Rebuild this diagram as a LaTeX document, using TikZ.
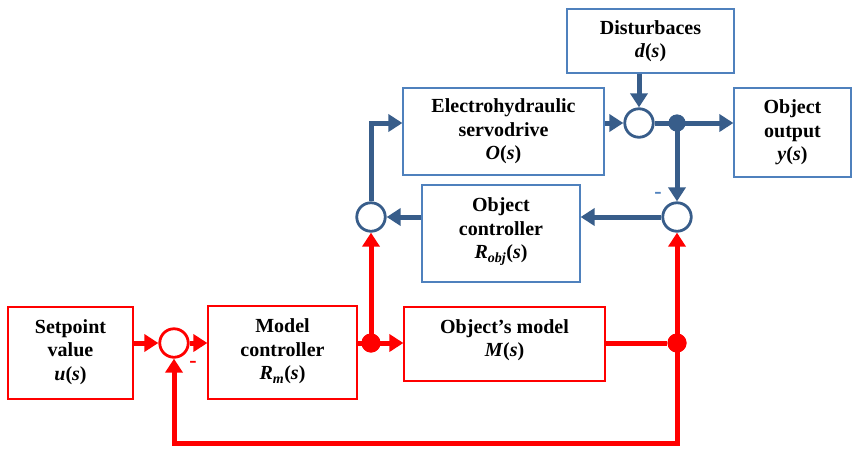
\documentclass[tikz,border=0pt]{standalone}
\usepackage{fontspec}
\setmainfont{Liberation Serif}
\usetikzlibrary{arrows.meta}
\definecolor{bl}{RGB}{56,93,138}
\definecolor{bboxc}{RGB}{79,129,189}
\definecolor{rd}{RGB}{255,0,0}
\begin{document}
\begin{tikzpicture}[x=1pt,y=-1pt,
  font=\fontsize{20}{23.5}\selectfont\bfseries,
  bbox/.style={draw=bboxc, line width=1.2pt, align=center, inner sep=0pt},
  rbox/.style={draw=rd, line width=1.2pt, align=center, inner sep=0pt},
  bsum/.style={circle, draw=bl, line width=2.8pt, fill=white, minimum size=28.5pt, inner sep=0pt},
  rsum/.style={circle, draw=rd, line width=2.8pt, fill=white, minimum size=28.5pt, inner sep=0pt},
  bdot/.style={circle, fill=bl, minimum size=17pt, inner sep=0pt},
  rdot/.style={circle, fill=rd, minimum size=19pt, inner sep=0pt},
  bline/.style={draw=bl, line width=5pt},
  rline/.style={draw=rd, line width=5pt},
  barrow/.style={bline, -{Triangle[length=14pt,width=17pt]}},
  rarrow/.style={rline, -{Triangle[length=14pt,width=17pt]}},
  minus/.style={font=\fontsize{22}{22}\selectfont\bfseries, inner sep=0pt}
]
\useasboundingbox (0,0) rectangle (853,451);
% blue boxes
\node[bbox, minimum width=167pt, minimum height=64pt] (dist) at (650.5,41)
  {Disturbaces\\\textit{d}(\textit{s})};
\node[bbox, minimum width=201pt, minimum height=87pt] (eh) at (503.5,131.5)
  {Electrohydraulic\\servodrive\\\textit{O}(\textit{s})};
\node[bbox, minimum width=117pt, minimum height=89pt] (out) at (792.5,132.5)
  {Object\\output\\\textit{y}(\textit{s})};
\node[bbox, minimum width=158pt, minimum height=97pt, text depth=10pt] (ctrl) at (501,233.5)
  {Object\\controller\\\textit{R}\textsubscript{\textit{obj}}(\textit{s})};
% red boxes
\node[rbox, minimum width=125pt, minimum height=92pt, text depth=6pt] (sp) at (70.5,353)
  {Setpoint\\value\\\textit{u}(\textit{s})};
\node[rbox, minimum width=149pt, minimum height=93pt, text depth=6pt] (mc) at (282.5,352.5)
  {Model\\controller\\\textit{R}\textsubscript{\textit{m}}(\textit{s})};
\node[rbox, minimum width=201pt, minimum height=74pt, text depth=12pt] (om) at (504.5,344)
  {Object’s model\\\textit{M}(\textit{s})};
% summing points and junctions
\node[bsum] (s1) at (639,123) {};
\node[bsum] (s2) at (677,217) {};
\node[bsum] (lc) at (371,217) {};
\node[rsum] (rs) at (174,343) {};
\node[bdot] (j1) at (677,123) {};
\node[rdot] (j2) at (371,343) {};
\node[rdot] (j3) at (677,343) {};
\coordinate (cb1) at (677,443);
% blue connections
\draw[barrow] (s1 |- dist.south) -- (s1.north);
\draw[barrow] (eh.east |- s1) -- (s1.west);
\draw[barrow] (s1.east) -- (s1 -| out.west);
\draw[barrow] (j1.center) -- (s2.north);
\draw[barrow] (s2.west) -- (s2 -| ctrl.east);
\draw[barrow] (ctrl.west |- lc) -- (lc.east);
\draw[barrow] (lc.north) |- (eh.west |- s1);
\node[bdot] at (j1) {};
% red connections
\draw[rarrow] (sp.east |- rs) -- (rs.west);
\draw[rarrow] (rs.east) -- (rs -| mc.west);
\draw[rarrow] (mc.east |- rs) -- (rs -| om.west);
\draw[rarrow] (j2.center) -- (lc.south);
\draw[rline] (om.east |- j3) -- (j3);
\draw[rarrow] (j3.center) -- (s2.south);
\draw[rarrow] (j3.center) -- (cb1) -| (rs.south);
\node[rdot] at (j2) {};
\node[rdot] at (j3) {};
% minus signs
\node[minus, text=bboxc] (m1) at (658,195) {-};
\node[minus, text=rd] (m2) at (193,364) {-};
\end{tikzpicture}
\end{document}
